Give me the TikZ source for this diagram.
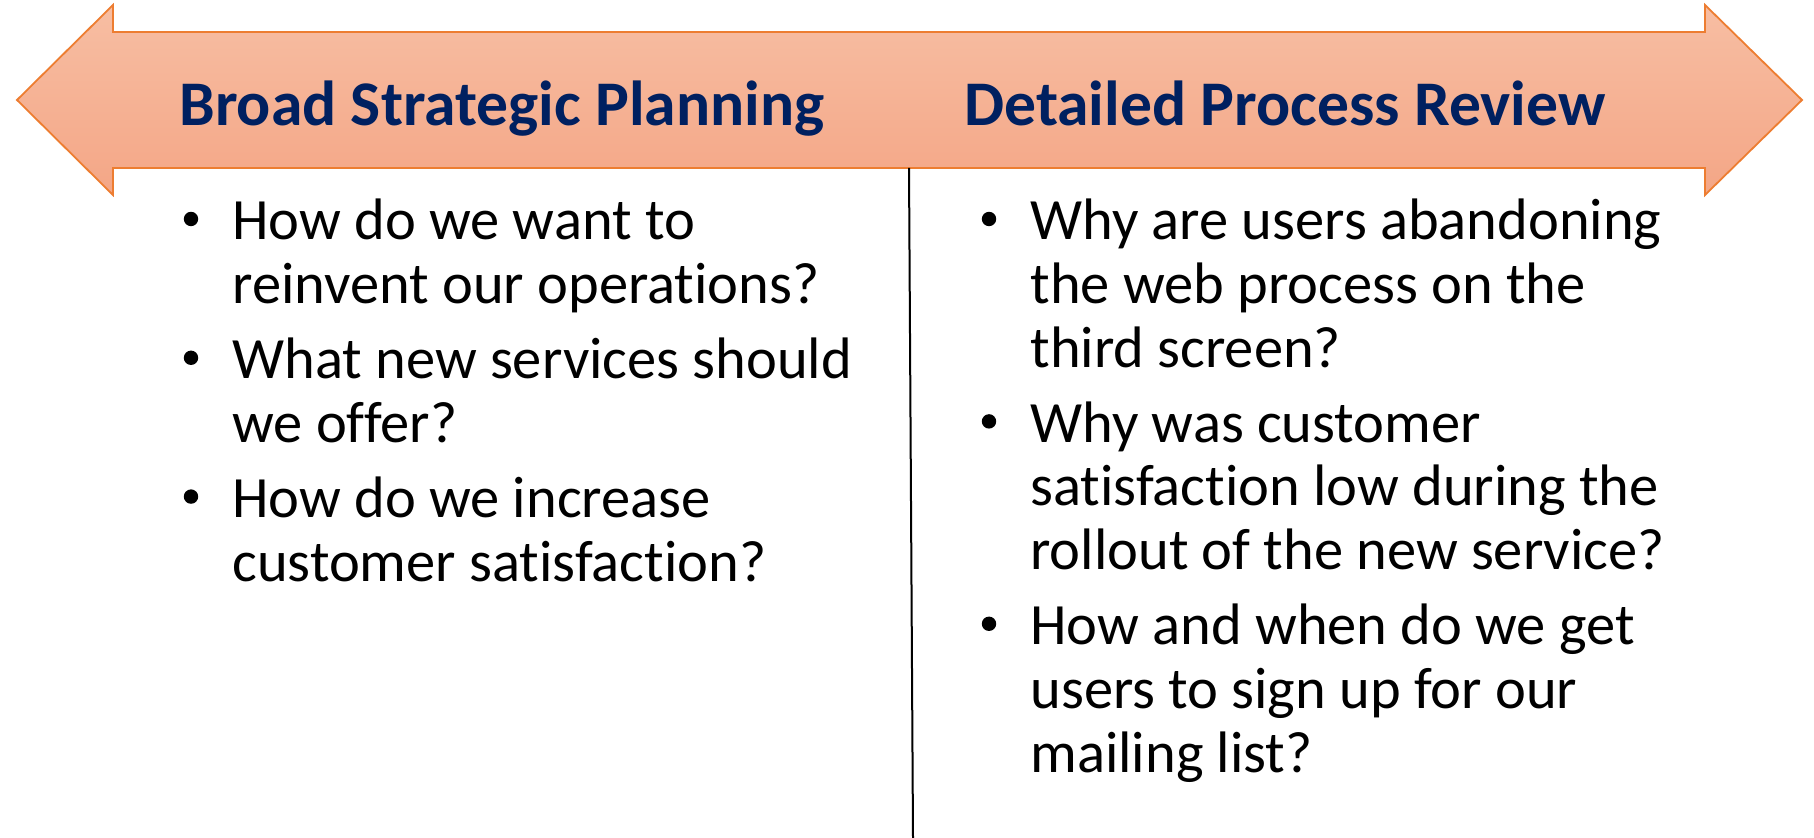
\documentclass[tikz,border=0pt]{standalone}
\usepackage{fontspec}
\setmainfont{Carlito}[Ligatures=NoCommon]

\definecolor{arrowtop}{RGB}{247,190,163}
\definecolor{arrowbot}{RGB}{244,166,134}
\definecolor{arrowline}{RGB}{237,125,49}
\definecolor{headnavy}{RGB}{0,32,96}

\tikzset{
  heading/.style={anchor=base west,inner sep=0pt,text=headnavy,
    font=\fontsize{31.8pt}{36pt}\selectfont\bfseries},
  bodyline/.style={anchor=base west,inner sep=0pt,
    font=\fontsize{29.25pt}{32pt}\selectfont},
  bulletdot/.style={circle,fill=black,inner sep=0pt,minimum size=7.2pt},
}

\begin{document}
\begin{tikzpicture}[x=0.5pt,y=-0.5pt]
  \useasboundingbox (0,0) rectangle (1814,838);
  % two-headed band across the top
  \shade[top color=arrowtop,bottom color=arrowbot,draw=arrowline,line width=0.9pt]
    (17,100) -- (113,5) -- (113,32) -- (1705,32) -- (1705,5) -- (1802,100)
    -- (1705,195) -- (1705,168) -- (113,168) -- (113,195) -- cycle;
  \node[heading] (leftHead) at (179,126) {Broad Strategic Planning};
  \node[heading] (rightHead) at (964,126) {Detailed Process Review};

  % divider between the columns
  \coordinate (divTop) at (909,168);
  \coordinate (divBot) at (913,838);
  \draw[line width=1pt] (divTop) -- (divBot);

  % left column
  \foreach \y [count=\i] in {219,357.8,496.6}
    \node[bulletdot] (leftDot\i) at (191,\y) {};
  \foreach \y/\txt [count=\i] in {240/How do we want to,
      303.6/reinvent our operations?,
      378.8/What new services should,
      442.4/we offer?,
      517.6/How do we increase,
      581.2/customer satisfaction?}
    \node[bodyline] (leftLine\i) at (232,\y) {\txt};

  % right column
  \foreach \y [count=\i] in {219,421.4,623.8}
    \node[bulletdot] (rightDot\i) at (989,\y) {};
  \foreach \y/\txt [count=\i] in {240/Why are users abandoning,
      303.6/the web process on the,
      367.2/third screen?,
      442.4/Why was customer,
      506/satisfaction low during the,
      569.6/rollout of the new service?,
      644.8/How and when do we get,
      708.4/users to sign up for our,
      772/mailing list?}
    \node[bodyline] (rightLine\i) at (1030,\y) {\txt};
\end{tikzpicture}
\end{document}
